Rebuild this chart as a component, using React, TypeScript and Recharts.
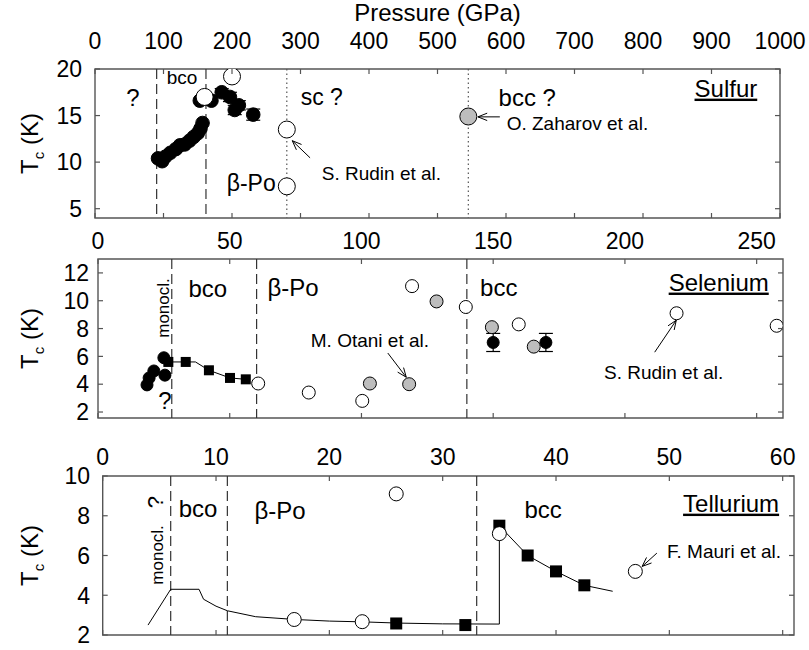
import React from 'react';
import {
  ComposedChart,
  Scatter,
  XAxis,
  YAxis,
  ReferenceLine,
  ReferenceDot,
  ReferenceArea,
  ErrorBar,
} from 'recharts';

const FONT = '"Liberation Sans", Arial, Helvetica, sans-serif';
const AX = '#555';
const W = 809;
const X_AXIS_H = 30;
const Y_AXIS_W = 60;
const TICK_FS = 23;

// ---- Sulfur (pressure 0-1000 GPa) ----
const sExpP = [92, 98, 103, 110, 118, 124, 131, 138, 144, 150, 154, 157, 153, 170];
const sExpT = [10.4, 10.1, 10.6, 11.0, 11.4, 11.8, 11.9, 12.3, 12.7, 13.1, 13.6, 14.2, 16.6, 16.6];
const sErrP = [185, 197, 204, 210, 231];
const sErrT = [17.5, 17.0, 15.6, 16.1, 15.1];
const sErrE = [0.4, 0.5, 0.5, 0.5, 0.6];
const sRudinP = [160, 200, 280, 280];
const sRudinT = [17.0, 19.2, 13.5, 7.4];
const sZaharovP = [545];
const sZaharovT = [14.9];
const sPhaseBounds = [90, 162];
const sGuessBounds = [280, 545];
const sXTicks = [0, 100, 200, 300, 400, 500, 600, 700, 800, 900, 1000];
const sYTicks = [5, 10, 15, 20];

// ---- Selenium (pressure 0-260 GPa) ----
const seExpP = [18.6, 19.4, 21.2, 25.0, 25.4];
const seExpT = [3.95, 4.45, 4.95, 5.9, 4.65];
const seSqP = [26.7, 33.3, 42.1, 50.1, 56.1];
const seSqT = [5.6, 5.6, 5.0, 4.45, 4.35];
const seCurveP = [26.7, 33.3, 37.0, 42.1, 50.1, 56.1];
const seCurveT = [5.6, 5.6, 5.6, 5.0, 4.45, 4.35];
const seErrP = [150, 170];
const seErrT = [7.0, 7.0];
const seErrE = [0.65, 0.65];
const seOpenP = [60.8, 80.0, 100.3, 119.2, 139.6, 159.7, 219.6, 257.6];
const seOpenT = [4.05, 3.4, 2.8, 11.05, 9.55, 8.3, 9.1, 8.2];
const seGrayP = [103.2, 118.1, 128.5, 149.5, 165.4];
const seGrayT = [4.05, 4.0, 9.95, 8.1, 6.7];
const seBounds = [28, 60.2, 140];
const seXTicks = [0, 50, 100, 150, 200, 250];
const seYTicks = [2, 4, 6, 8, 10, 12];

// ---- Tellurium (pressure 0-61 GPa) ----
const teSqP = [25.9, 32.0, 35.0, 37.5, 40.0, 42.5];
const teSqT = [2.58, 2.5, 7.5, 6.0, 5.2, 4.5];
const teOpenP = [16.9, 22.9, 25.9, 35.0, 47.0];
const teOpenT = [2.78, 2.67, 9.1, 7.1, 5.2];
const teCurveP = [4, 6, 8.5, 8.9, 10, 11, 13.5, 17, 20, 23, 26, 30, 35, 35, 37.5, 40, 42.5, 45];
const teCurveT = [2.5, 4.3, 4.3, 3.8, 3.45, 3.22, 2.92, 2.78, 2.7, 2.66, 2.6, 2.56, 2.55, 7.5, 6.0, 5.2, 4.5, 4.2];
const teBounds = [6.0, 11.0, 33.0];
const teXTicks = [0, 10, 20, 30, 40, 50, 60];
const teYTicks = [2, 4, 6, 8, 10];

const zip = (ps: number[], ts: number[], es?: number[]) =>
  ps.map((p, i) => (es ? { p, t: ts[i], e: es[i] } : { p, t: ts[i] }));

// marker shapes
const dot = (r: number, fill: string) => (props: any) => (
  <circle cx={props.cx} cy={props.cy} r={r} fill={fill} stroke="#000" strokeWidth={1} />
);
const square = (s: number) => (props: any) => (
  <rect x={props.cx - s / 2} y={props.cy - s / 2} width={s} height={s} fill="#000" />
);
const noMark = () => <g />;

const arrow = (props: any) => {
  const { x1, y1, x2, y2 } = props;
  const a = Math.atan2(y2 - y1, x2 - x1);
  const L = 10;
  const s = 0.38;
  const pA = `${x2 - L * Math.cos(a - s)},${y2 - L * Math.sin(a - s)}`;
  const pB = `${x2 - L * Math.cos(a + s)},${y2 - L * Math.sin(a + s)}`;
  return (
    <g>
      <line x1={x1} y1={y1} x2={x2} y2={y2} stroke="#000" strokeWidth={1} />
      <polyline points={`${pA} ${x2},${y2} ${pB}`} fill="none" stroke="#000" strokeWidth={1} />
    </g>
  );
};

// text annotation placed at data coordinates
const note = (key: string, x: number, y: number, text: string, size = 24, opts: any = {}) => (
  <ReferenceDot
    key={key}
    x={x}
    y={y}
    r={1}
    fill="none"
    stroke="none"
    shape={(p: any) => (
      <text
        x={p.cx}
        y={p.cy}
        dy="0.36em"
        textAnchor={opts.anchor || 'middle'}
        fontSize={size}
        fontFamily={FONT}
        fill="#000"
        textDecoration={opts.underline ? 'underline' : undefined}
        transform={opts.rotate ? `rotate(-90 ${p.cx} ${p.cy})` : undefined}
      >
        {text}
      </text>
    )}
  />
);

type Box = { left: number; right: number; top: number; bottom: number };

interface PanelProps {
  top: number;
  height: number;
  box: Box;
  xDomain: [number, number];
  yDomain: [number, number];
  xTicks: number[];
  yTicks: number[];
  xGap: number;
  yGap: number;
  title?: string;
  children: React.ReactNode;
}

const Panel = ({ top, height, box, xDomain, yDomain, xTicks, yTicks, xGap, yGap, title, children }: PanelProps) => {
  const bt = box.top - top;
  const bb = box.bottom - top;
  const margin = {
    top: bt - X_AXIS_H,
    bottom: top + height - box.bottom,
    left: box.left - Y_AXIS_W,
    right: W - box.right,
  };

  // ticks point inwards on all four sides, labels only on top and left
  const xTick = (props: any) => {
    const { x, payload } = props;
    return (
      <g>
        <line x1={x} x2={x} y1={bt} y2={bt + 5} stroke={AX} strokeWidth={1.2} />
        <line x1={x} x2={x} y1={bb} y2={bb - 5} stroke={AX} strokeWidth={1.2} />
        <text x={x} y={bt - xGap} textAnchor="middle" fontSize={TICK_FS} fontFamily={FONT} fill="#000">
          {payload.value}
        </text>
      </g>
    );
  };

  const yTick = (props: any) => {
    const { y, payload } = props;
    return (
      <g>
        <line x1={box.left} x2={box.left + 5} y1={y} y2={y} stroke={AX} strokeWidth={1.2} />
        <line x1={box.right} x2={box.right - 5} y1={y} y2={y} stroke={AX} strokeWidth={1.2} />
        <text x={box.left - yGap} y={y} dy="0.36em" textAnchor="end" fontSize={TICK_FS} fontFamily={FONT} fill="#000">
          {payload.value}
        </text>
      </g>
    );
  };

  const cy = (bt + bb) / 2;
  const cx = 29;

  return (
    <div style={{ position: 'absolute', left: 0, top, width: W, height }}>
      <ComposedChart width={W} height={height} margin={margin}>
        <XAxis
          type="number"
          dataKey="p"
          orientation="top"
          domain={xDomain}
          ticks={xTicks}
          interval={0}
          allowDataOverflow
          height={X_AXIS_H}
          axisLine={false}
          tickLine={false}
          tick={xTick}
          label={
            title
              ? {
                  content: () => (
                    <text
                      x={(box.left + box.right) / 2}
                      y={bt - 48}
                      textAnchor="middle"
                      fontSize={24}
                      fontFamily={FONT}
                      fill="#000"
                    >
                      {title}
                    </text>
                  ),
                }
              : undefined
          }
        />
        <YAxis
          type="number"
          dataKey="t"
          domain={yDomain}
          ticks={yTicks}
          interval={0}
          allowDataOverflow
          width={Y_AXIS_W}
          axisLine={false}
          tickLine={false}
          tick={yTick}
          label={{
            content: () => (
              <text
                x={cx}
                y={cy}
                dy="0.36em"
                textAnchor="middle"
                fontSize={24}
                fontFamily={FONT}
                fill="#000"
                transform={`rotate(-90 ${cx} ${cy})`}
              >
                T<tspan fontSize={15} dy={6}>c</tspan>
                <tspan dy={-6}> (K)</tspan>
              </text>
            ),
          }}
        />
        <ReferenceArea
          x1={xDomain[0]}
          x2={xDomain[1]}
          y1={yDomain[0]}
          y2={yDomain[1]}
          fill="none"
          stroke={AX}
          strokeWidth={1.4}
          ifOverflow="visible"
        />
        {children}
      </ComposedChart>
    </div>
  );
};

export default function App() {
  return (
    <div style={{ position: 'absolute', left: 0, top: 0, width: W, height: 650, background: '#fff' }}>
      {/* Sulfur */}
      <Panel
        top={0}
        height={232}
        box={{ left: 95, right: 780, top: 69, bottom: 218 }}
        xDomain={[0, 1000]}
        yDomain={[4, 20]}
        xTicks={sXTicks}
        yTicks={sYTicks}
        xGap={20}
        yGap={13}
        title="Pressure (GPa)"
      >
        {sPhaseBounds.map((v) => (
          <ReferenceLine key={'sb' + v} x={v} stroke="#333" strokeWidth={1.2} strokeDasharray="10 5" />
        ))}
        {sGuessBounds.map((v) => (
          <ReferenceLine key={'sg' + v} x={v} stroke="#555" strokeWidth={1.2} strokeDasharray="1.5 3" />
        ))}
        <Scatter data={zip(sExpP, sExpT)} shape={dot(6.8, '#000')} isAnimationActive={false} />
        <Scatter data={zip(sErrP, sErrT, sErrE)} shape={dot(6.8, '#000')} isAnimationActive={false}>
          <ErrorBar dataKey="e" direction="y" width={7} stroke="#000" strokeWidth={1.2} />
        </Scatter>
        <Scatter data={zip(sRudinP, sRudinT)} shape={dot(8.5, '#fff')} isAnimationActive={false} />
        <Scatter data={zip(sZaharovP, sZaharovT)} shape={dot(8.5, '#bdbdbd')} isAnimationActive={false} />
        <ReferenceLine segment={[{ x: 314, y: 10.46 }, { x: 288, y: 12.3 }]} shape={arrow} />
        <ReferenceLine segment={[{ x: 591, y: 14.86 }, { x: 559, y: 14.86 }]} shape={arrow} />
        {note('s1', 55.5, 17.0, '?')}
        {note('s2', 127, 19.14, 'bco', 19)}
        {note('s3', 331, 17.0, 'sc ?', 23)}
        {note('s4', 228, 7.76, 'β-Po', 23)}
        {note('s5', 631, 17.0, 'bcc ?')}
        {note('s6', 921, 17.96, 'Sulfur', 24, { underline: true })}
        {note('s7', 331, 8.83, 'S. Rudin et al.', 19, { anchor: 'start' })}
        {note('s8', 601, 14.2, 'O. Zaharov et al.', 19, { anchor: 'start' })}
      </Panel>

      {/* Selenium */}
      <Panel
        top={226}
        height={200}
        box={{ left: 98, right: 783, top: 259, bottom: 418 }}
        xDomain={[0, 260]}
        yDomain={[1.57, 13]}
        xTicks={seXTicks}
        yTicks={seYTicks}
        xGap={10}
        yGap={9}
      >
        {seBounds.map((v) => (
          <ReferenceLine key={'seb' + v} x={v} stroke="#333" strokeWidth={1.2} strokeDasharray="10 5" />
        ))}
        <Scatter data={zip(seCurveP, seCurveT)} shape={noMark} line={{ stroke: '#000', strokeWidth: 1 }} lineType="joint" isAnimationActive={false} />
        <Scatter data={zip(seExpP, seExpT)} shape={dot(6, '#000')} isAnimationActive={false} />
        <Scatter data={zip(seSqP, seSqT)} shape={square(10)} isAnimationActive={false} />
        <Scatter data={zip(seErrP, seErrT, seErrE)} shape={dot(6, '#000')} isAnimationActive={false}>
          <ErrorBar dataKey="e" direction="y" width={7} stroke="#000" strokeWidth={1.2} />
        </Scatter>
        <Scatter data={zip(seGrayP, seGrayT)} shape={dot(6.5, '#bdbdbd')} isAnimationActive={false} />
        <Scatter data={zip(seOpenP, seOpenT)} shape={dot(6.5, '#fff')} isAnimationActive={false} />
        <ReferenceLine segment={[{ x: 110, y: 6.24 }, { x: 117, y: 4.5 }]} shape={arrow} />
        <ReferenceLine segment={[{ x: 211.3, y: 6.3 }, { x: 219.5, y: 8.6 }]} shape={arrow} />
        {note('se1', 24.7, 9.48, 'monocl.', 17, { rotate: true })}
        {note('se2', 25.4, 2.86, '?')}
        {note('se3', 41.7, 10.92, 'bco')}
        {note('se4', 74.0, 10.99, 'β-Po')}
        {note('se5', 152.1, 10.99, 'bcc')}
        {note('se6', 235.6, 11.35, 'Selenium', 24, { underline: true })}
        {note('se7', 103.2, 7.18, 'M. Otani et al.', 19)}
        {note('se8', 214.7, 4.88, 'S. Rudin et al.', 19)}
      </Panel>

      {/* Tellurium */}
      <Panel
        top={430}
        height={220}
        box={{ left: 102.7, right: 794, top: 476, bottom: 635 }}
        xDomain={[0, 61]}
        yDomain={[2, 10]}
        xTicks={teXTicks}
        yTicks={teYTicks}
        xGap={11}
        yGap={12.7}
      >
        {teBounds.map((v) => (
          <ReferenceLine key={'teb' + v} x={v} stroke="#333" strokeWidth={1.2} strokeDasharray="10 5" />
        ))}
        <Scatter data={zip(teCurveP, teCurveT)} shape={noMark} line={{ stroke: '#000', strokeWidth: 1 }} lineType="joint" isAnimationActive={false} />
        <Scatter data={zip(teSqP, teSqT)} shape={square(12)} isAnimationActive={false} />
        <Scatter data={zip(teOpenP, teOpenT)} shape={dot(7, '#fff')} isAnimationActive={false} />
        <ReferenceLine segment={[{ x: 48.9, y: 6.12 }, { x: 47.6, y: 5.45 }]} shape={arrow} />
        {note('te1', 4.79, 6.03, 'monocl.', 17, { rotate: true })}
        {note('te2', 4.62, 8.69, '?', 22, { rotate: true })}
        {note('te3', 8.41, 8.39, 'bco')}
        {note('te4', 15.65, 8.29, 'β-Po')}
        {note('te5', 38.86, 8.34, 'bcc')}
        {note('te6', 55.45, 8.64, 'Tellurium', 24, { underline: true })}
        {note('te7', 49.8, 6.23, 'F. Mauri et al.', 19, { anchor: 'start' })}
      </Panel>
    </div>
  );
}
